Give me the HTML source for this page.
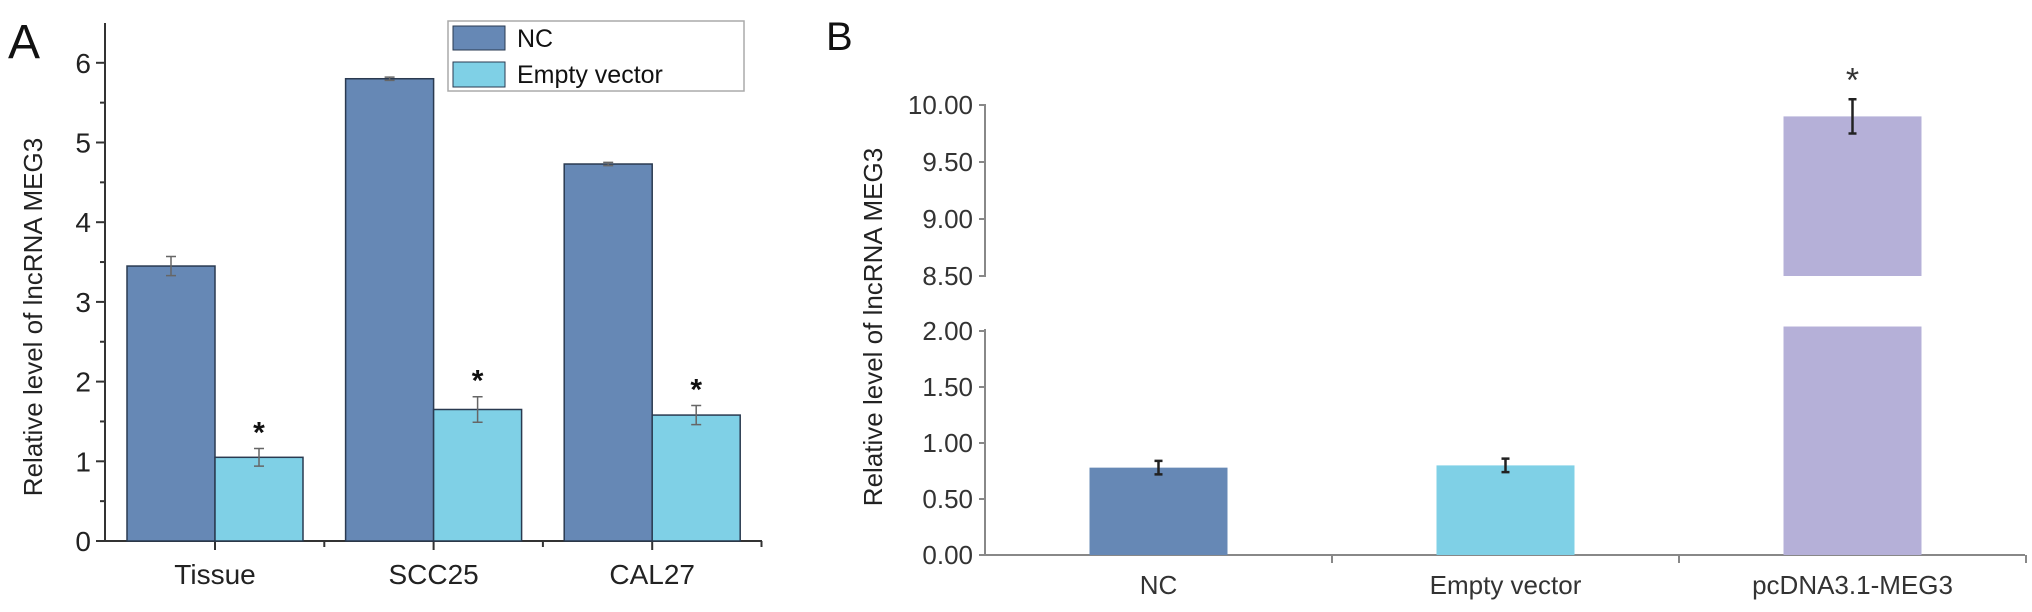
<!DOCTYPE html>
<html><head><meta charset="utf-8"><style>
html,body{margin:0;padding:0;background:#fff;}
svg{display:block;font-family:"Liberation Sans",sans-serif;}
</style></head><body>
<svg id="chart" width="2032" height="612" viewBox="0 0 2032 612">
<text x="8" y="58" font-size="48" fill="#111">A</text>
<text x="826" y="50" font-size="40" fill="#111">B</text>
<text transform="translate(42,317) rotate(-90)" text-anchor="middle" font-size="26" fill="#222">Relative level of lncRNA MEG3</text>
<text transform="translate(882,327) rotate(-90)" text-anchor="middle" font-size="26" fill="#222">Relative level of lncRNA MEG3</text>
<g id="a"></g><g id="b"></g>
<g>
<rect x="448" y="21" width="296" height="70" fill="#fff" stroke="#aaa" stroke-width="1.5"/>
<rect x="453" y="26" width="52" height="24" fill="#6688b5" stroke="#2a3a50"/>
<text x="517" y="47" font-size="25" fill="#111">NC</text>
<rect x="453" y="62" width="52" height="25" fill="#7fd0e6" stroke="#2a3a50"/>
<text x="517" y="83" font-size="25" fill="#111">Empty vector</text>
</g>
</svg>
<script>
const aCategories=["Tissue","SCC25","CAL27"];
const aNC=[3.45,5.80,4.73];
const aNCErr=[0.12,0.02,0.02];
const aEV=[1.05,1.65,1.58];
const aEVErr=[0.11,0.16,0.12];
const aTicks=[0,1,2,3,4,5,6];
const bCategories=["NC","Empty vector","pcDNA3.1-MEG3"];
const bValues=[0.78,0.80,9.90];
const bErr=[0.06,0.06,0.15];
const bLowTicks=["0.00","0.50","1.00","1.50","2.00"];
const bHighTicks=["8.50","9.00","9.50","10.00"];
const NS="http://www.w3.org/2000/svg";
function mk(p,t,at,txt){const e=document.createElementNS(NS,t);for(const k in at)e.setAttribute(k,at[k]);if(txt!==undefined)e.textContent=txt;p.appendChild(e);return e;}
// Panel A
const ga=document.getElementById('a');
const aY=v=>541-v*79.7;
const aX0=105,aBand=218.6;
mk(ga,'line',{x1:aX0,y1:23,x2:aX0,y2:541,stroke:'#333','stroke-width':2});
mk(ga,'line',{x1:aX0,y1:541,x2:762,y2:541,stroke:'#333','stroke-width':2});
for(let i=0;i<=12;i++){const v=i/2;const y=aY(v);mk(ga,'line',{x1:aX0-(i%2?5:9),y1:y,x2:aX0,y2:y,stroke:'#333','stroke-width':2});}
aTicks.forEach(t=>{const e=mk(ga,'text',{x:aX0-14,y:aY(t)+10,'text-anchor':'end','font-size':28,fill:'#222'},t);

});
aCategories.forEach((c,i)=>{
 const cx=215+i*aBand, bw=88;
 mk(ga,'line',{x1:cx,y1:541,x2:cx,y2:550,stroke:'#333','stroke-width':2});
 mk(ga,'line',{x1:cx+aBand/2,y1:541,x2:cx+aBand/2,y2:547,stroke:'#333','stroke-width':2});
 const r1=mk(ga,'rect',{x:cx-bw,y:aY(aNC[i]),width:bw,height:541-aY(aNC[i]),fill:'#6688b5',stroke:'#2a3a50','stroke-width':1.5});
 
 
 const r2=mk(ga,'rect',{x:cx,y:aY(aEV[i]),width:bw,height:541-aY(aEV[i]),fill:'#7fd0e6',stroke:'#2a3a50','stroke-width':1.5});
 
 
 [[cx-bw/2,aNC[i],aNCErr[i]],[cx+bw/2,aEV[i],aEVErr[i]]].forEach(([x,v,e])=>{
  mk(ga,'path',{d:`M${x},${aY(v+e)}V${aY(v-e)}M${x-5},${aY(v+e)}h10M${x-5},${aY(v-e)}h10`,stroke:'#666','stroke-width':1.5,fill:'none'});});
 const s=mk(ga,'text',{x:cx+bw/2,y:aY(aEV[i]+aEVErr[i])-6,'text-anchor':'middle','font-size':30,'font-weight':'bold',fill:'#111'},'*');
 
 
 const l=mk(ga,'text',{x:cx,y:584,'text-anchor':'middle','font-size':28,fill:'#222'},c);
 
 
});
// Panel B
const gb=document.getElementById('b');
const bX0=985,bBand=347;
const bLow=v=>555-v*112;
const bHigh=v=>276-(v-8.5)*114;
const bY=v=>v<=2.05?bLow(v):bHigh(v);
mk(gb,'line',{x1:bX0,y1:104,x2:bX0,y2:277,stroke:'#888','stroke-width':2});
mk(gb,'line',{x1:bX0,y1:329,x2:bX0,y2:555,stroke:'#888','stroke-width':2});
mk(gb,'line',{x1:bX0,y1:555,x2:2025,y2:555,stroke:'#888','stroke-width':2});
bLowTicks.forEach(t=>{const y=bLow(+t);mk(gb,'line',{x1:bX0-6,y1:y,x2:bX0,y2:y,stroke:'#888','stroke-width':2});
 const e=mk(gb,'text',{x:bX0-12,y:y+9,'text-anchor':'end','font-size':26,fill:'#333'},t);
 
 });
bHighTicks.forEach(t=>{const y=bHigh(+t);mk(gb,'line',{x1:bX0-6,y1:y,x2:bX0,y2:y,stroke:'#888','stroke-width':2});
 const e=mk(gb,'text',{x:bX0-12,y:y+9,'text-anchor':'end','font-size':26,fill:'#333'},t);
 
 });
const bColors=['#6688b5','#7fd0e6','#b5b0d8'];
bCategories.forEach((c,i)=>{
 const cx=bX0+bBand*(i+0.5),bw=138;
 mk(gb,'line',{x1:bX0+bBand*(i+1),y1:555,x2:bX0+bBand*(i+1),y2:563,stroke:'#888','stroke-width':2});
 const v=bValues[i];
 if(v<=2.05){
  const r=mk(gb,'rect',{x:cx-bw/2,y:bY(v),width:bw,height:555-bY(v),fill:bColors[i]});
  
  
 }else{
  const r=mk(gb,'rect',{x:cx-bw/2,y:bLow(2.04),width:bw,height:555-bLow(2.04),fill:bColors[i]});
  
  
  const r2=mk(gb,'rect',{x:cx-bw/2,y:bHigh(v),width:bw,height:bHigh(8.5)-bHigh(v),fill:bColors[i]});
  
  
  const s=mk(gb,'text',{x:cx,y:bY(v+bErr[i])-8,'text-anchor':'middle','font-size':34,fill:'#333'},'*');
  
  
 }
 const e=bErr[i];
 mk(gb,'path',{d:`M${cx},${bY(v+e)}V${bY(v-e)}M${cx-4},${bY(v+e)}h8M${cx-4},${bY(v-e)}h8`,stroke:'#222','stroke-width':2.5,fill:'none'});
 const l=mk(gb,'text',{x:cx,y:594,'text-anchor':'middle','font-size':26,fill:'#333'},c);
 
 
});
</script>
</body></html>
